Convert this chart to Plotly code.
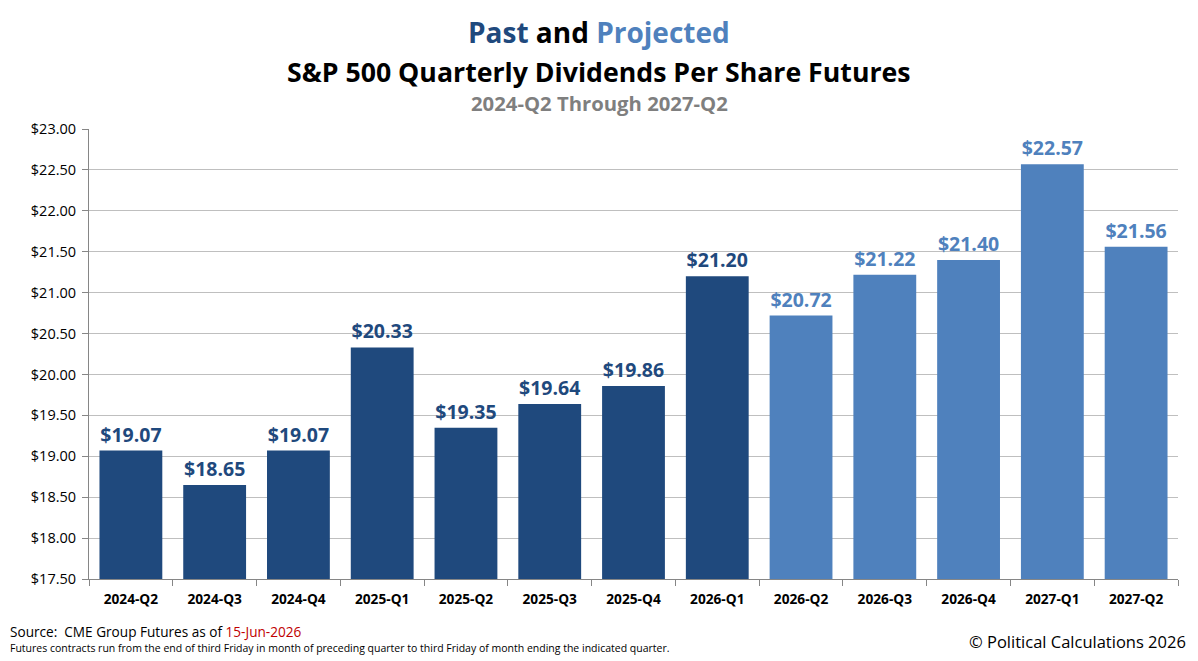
import plotly.graph_objects as go

quarters = ["2024-Q2", "2024-Q3", "2024-Q4", "2025-Q1", "2025-Q2", "2025-Q3", "2025-Q4",
            "2026-Q1", "2026-Q2", "2026-Q3", "2026-Q4", "2027-Q1", "2027-Q2"]
dividends = [19.07, 18.65, 19.07, 20.33, 19.35, 19.64, 19.86, 21.20, 20.72, 21.22, 21.40, 22.57, 21.56]
is_projected = [False] * 8 + [True] * 5

PAST = "#1F497D"
PROJ = "#4F81BD"
FONT = "Open Sans"

W, H = 1198, 661
L, R, T, B = 89, 1178, 129, 579


def px(x):
    return (x - L) / (R - L)


def py(y):
    return (B - y) / (B - T)


colors = [PROJ if p else PAST for p in is_projected]

fig = go.Figure()
fig.add_trace(go.Bar(
    x=quarters, y=dividends,
    marker=dict(color=colors, line=dict(width=0)),
    text=[f"${v:.2f}" for v in dividends],
    textposition="outside",
    textfont=dict(family=FONT, size=19.5, color=colors, weight="bold"),
    cliponaxis=False,
    hoverinfo="x+y",
))

annotations = [
    dict(x=px(599), y=py(32), text="<b><span style='color:%s'>Past</span> and <span style='color:%s'>Projected</span></b>" % (PAST, PROJ),
         font=dict(family=FONT, size=28, color="black")),
    dict(x=px(599), y=py(72), text="<b>S&P 500 Quarterly Dividends Per Share Futures</b>",
         font=dict(family=FONT, size=26.7, color="black")),
    dict(x=px(599), y=py(103), text="<b>2024-Q2 Through 2027-Q2</b>",
         font=dict(family=FONT, size=20.3, color="#7F7F7F")),
]
for a in annotations:
    a.update(xref="paper", yref="paper", showarrow=False, xanchor="center", yanchor="middle")

annotations += [
    dict(x=px(8), y=py(631), xref="paper", yref="paper", showarrow=False, xanchor="left", yanchor="middle",
         text="Source:  CME Group Futures as of <span style='color:#C00000'>15-Jun-2026</span>",
         font=dict(family=FONT, size=13.6, color="black")),
    dict(x=px(8), y=py(648), xref="paper", yref="paper", showarrow=False, xanchor="left", yanchor="middle",
         text="Futures contracts run from the end of third Friday in month of preceding quarter to third Friday of month ending the indicated quarter.",
         font=dict(family=FONT, size=10.5, color="black")),
    dict(x=px(1188), y=py(641), xref="paper", yref="paper", showarrow=False, xanchor="right", yanchor="middle",
         text="© Political Calculations 2026",
         font=dict(family=FONT, size=16.5, color="black")),
]

fig.update_layout(
    width=W, height=H,
    margin=dict(l=L, r=W - R, t=T, b=H - B, pad=0),
    paper_bgcolor="white", plot_bgcolor="white",
    bargap=0.25,
    showlegend=False,
    annotations=annotations,
    font=dict(family=FONT, color="black"),
)
fig.update_yaxes(
    range=[17.5, 23.0], dtick=0.5, tickformat="$.2f",
    showgrid=True, gridcolor="#BFBFBF", gridwidth=1,
    showline=True, linecolor="#868686", linewidth=1,
    ticks="outside", ticklen=6, tickcolor="#868686",
    ticklabelstandoff=3,
    tickfont=dict(family=FONT, size=14.5, color="black"),
    zeroline=False,
)
fig.update_xaxes(
    type="category",
    showline=True, linecolor="#868686", linewidth=1,
    ticks="outside", ticklen=6, tickcolor="#868686", tickson="boundaries",
    ticklabelstandoff=8,
    tickfont=dict(family=FONT, size=13.7, color="black", weight="bold"),
    showgrid=False,
)

fig.write_html("out.html")
